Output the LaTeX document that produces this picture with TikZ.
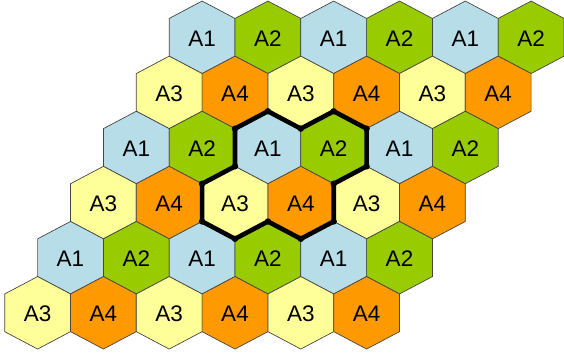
\documentclass[tikz,border=0pt]{standalone}
\usepackage{fontspec}
\setmainfont{Liberation Sans}
\usetikzlibrary{calc}
\definecolor{cA}{RGB}{183,222,232}
\definecolor{cB}{RGB}{153,204,0}
\definecolor{cC}{RGB}{255,255,153}
\definecolor{cD}{RGB}{255,153,0}
\definecolor{hexline}{RGB}{70,70,70}
\tikzset{
  hexcell/.style={draw=hexline, line width=0.7pt, line join=miter},
  hexlabel/.style={inner sep=0pt, font=\fontsize{22.5}{26}\selectfont, text=black},
  clusterline/.style={draw=black, line width=4.6pt, line join=round, line cap=round},
  corner/.style={fill=black}
}
\begin{document}
\begin{tikzpicture}[x=1pt,y=-1pt]
\useasboundingbox (0,0) rectangle (564,354);
\foreach \r in {1,...,6}{
  \foreach \p in {1,...,6}{
    \pgfmathsetmacro{\cx}{202.1-(\r-1)*32.9+(\p-1)*65.8}
    \pgfmathsetmacro{\cy}{37.3+(\r-1)*55.1}
    \pgfmathtruncatemacro{\odd}{mod(\r,2)}
    \pgfmathtruncatemacro{\alt}{mod(\p,2)}
    \ifnum\odd=1
      \ifnum\alt=1 \def\lab{A1}\def\col{cA}\else \def\lab{A2}\def\col{cB}\fi
    \else
      \ifnum\alt=1 \def\lab{A3}\def\col{cC}\else \def\lab{A4}\def\col{cD}\fi
    \fi
    \draw[hexcell, fill=\col] (\cx,\cy) +(0,-36.25) -- +(32.9,-18.85) -- +(32.9,18.85) -- +(0,36.25) -- +(-32.9,18.85) -- +(-32.9,-18.85) -- cycle;
    \node[hexlabel] (h-\r-\p) at (\cx,\cy+1) {\lab};
  }
}
% cluster outline
\coordinate (v1) at ($(h-3-3.center)+(0,-37.25)$);
\coordinate (v2) at ($(h-3-3.center)+(32.9,-19.85)$);
\coordinate (v3) at ($(h-3-4.center)+(0,-37.25)$);
\coordinate (v4) at ($(h-3-4.center)+(32.9,-19.85)$);
\coordinate (v5) at ($(h-3-4.center)+(32.9,17.85)$);
\coordinate (v6) at ($(h-3-4.center)+(0,35.25)$);
\coordinate (v7) at ($(h-4-4.center)+(32.9,17.85)$);
\coordinate (v8) at ($(h-4-4.center)+(0,35.25)$);
\coordinate (v9) at ($(h-4-4.center)+(-32.9,17.85)$);
\coordinate (v10) at ($(h-4-3.center)+(0,35.25)$);
\coordinate (v11) at ($(h-4-3.center)+(-32.9,17.85)$);
\coordinate (v12) at ($(h-4-3.center)+(-32.9,-19.85)$);
\coordinate (v13) at ($(h-4-3.center)+(0,-37.25)$);
\coordinate (v14) at ($(h-3-3.center)+(-32.9,-19.85)$);
\draw[clusterline] (v1) -- (v2) -- (v3) -- (v4) -- (v5) -- (v6) -- (v7) -- (v8) -- (v9) -- (v10) -- (v11) -- (v12) -- (v13) -- (v14) -- cycle;
\foreach \i in {1,...,14}{
  \fill[corner] (v\i) circle (3.2pt);
}
\end{tikzpicture}
\end{document}
